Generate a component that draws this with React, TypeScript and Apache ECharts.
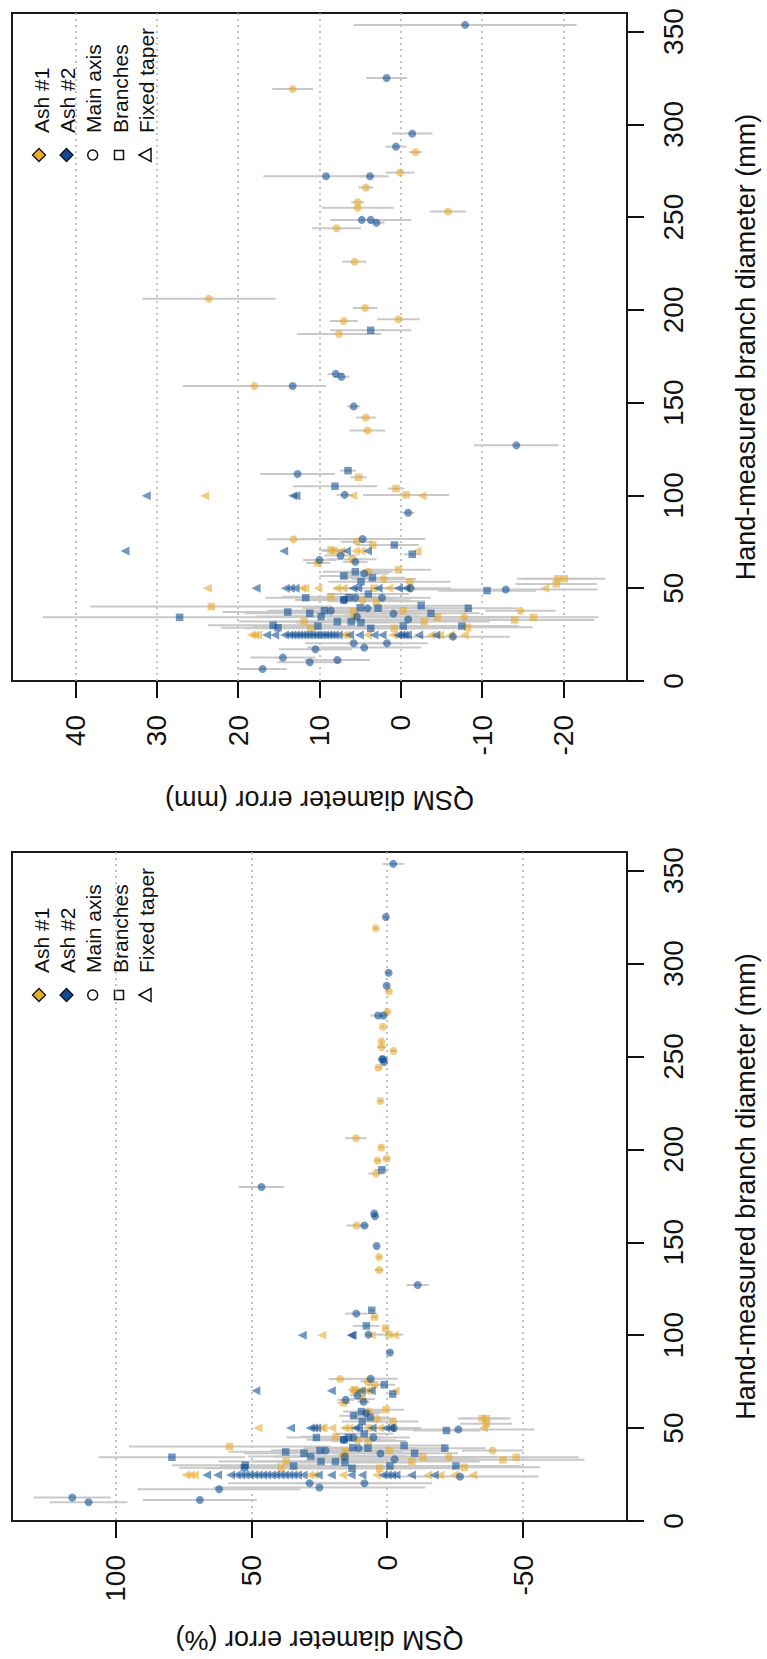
import React, { useEffect, useRef } from "react";
import * as echarts from "echarts";

// [diameter mm, error mm, bar mm, error %, bar %]
const ash1Main: (number | null)[][] = [
  [319, 13.3, 2.5, 4.2, 0.8], [285, -1.8, 0.8, -0.6, 0.3], [274, 0.1, 1.8, 0.0, 0.7],
  [266, 4.3, 0.9, 1.6, 0.3], [258, 5.3, 0.8, 2.1, 0.3], [255, 5.3, 4.4, 2.1, 1.7],
  [253, -5.8, 2.2, -2.3, 0.9], [244, 7.9, 3.0, 3.2, 1.2], [226, 5.7, 1.5, 2.5, 0.7],
  [206, 23.6, 8.2, 11.5, 4.0], [201, 4.4, 1.5, 2.2, 0.7], [195, 0.3, 2.6, 0.2, 1.3],
  [194, 7.0, 1.7, 3.6, 0.9], [187, 7.6, 5.2, 4.1, 2.8], [159, 18.0, 8.8, 11.3, 3.7],
  [142, 4.3, 1.2, 3.0, 0.8], [135, 4.1, 2.2, 3.0, 1.6], [76.4, 13.2, 3.3, 17.3, 4.3],
  [75.1, 5.4, 2.0, 7.2, 2.7], [65.6, 6.0, 3.0, 9.1, 4.6], [58.9, 4.0, 3.0, 6.8, 5.1],
  [55.0, 2.1, 4.0, 3.8, 7.3], [53.5, -1.1, 5.0, -2.1, 9.3], [43.5, 4.7, 6.0, 10.8, 13.8],
  [37.9, -14.7, 4.3, -38.8, 11.3], [34.3, -7.8, 6.0, -22.7, 17.5], [34.7, 5.7, 8.0, 16.4, 23.0],
];

const ash2Main: (number | null)[][] = [
  [353.6, -7.9, 13.7, -2.2, 3.9], [325, 1.75, 2.5, 0.5, 0.8], [295, -1.4, 2.5, -0.5, 0.8],
  [288, 0.6, 1.3, 0.2, 0.5], [272, 9.2, 7.7, 3.4, 2.8], [272, 3.8, 1.5, 1.4, 0.6],
  [248.5, 4.8, 1.0, 1.9, 0.4], [248.5, 3.7, 5.0, 1.5, 2.0], [247, 3.0, 1.0, 1.2, 0.4],
  [165.5, 8.0, 1.0, 4.8, 0.6], [164, 7.3, 1.0, 4.5, 0.6], [159, 13.3, 2.5, 8.4, 1.6],
  [148, 5.8, 0.8, 3.9, 0.5], [127, -14.2, 5.2, -11.2, 4.1], [111.6, 12.7, 4.6, 11.4, 4.1],
  [100.3, 6.9, 1.0, 6.9, 1.0], [90.7, -0.9, 0.8, -1.0, 0.9], [76.5, 4.7, 7.7, 6.1, 10.0],
  [67.6, 7.4, 2.0, 10.9, 3.0], [65.2, 10.0, 2.0, 15.3, 3.0], [64.2, 5.6, 1.5, 8.7, 2.3],
  [58.0, 4.5, 3.0, 7.8, 5.2], [49.3, -12.9, 11.3, -26.2, 28.0], [50.0, -1.2, 5.0, -2.4, 10.0],
  [43.7, 7.0, 6.0, 16.0, 13.7], [44.9, 5.6, 5.0, 12.5, 11.0], [44.9, 2.3, 6.0, 5.1, 13.4],
  [37.9, 8.6, 7.0, 22.7, 18.5], [39.2, 4.1, 8.0, 10.5, 20.4], [36.3, 0.9, 6.0, 2.5, 16.5],
  [34.7, 5.4, 9.0, 15.6, 26.0], [33.2, -0.9, 10.0, -2.7, 30.0], [23.9, -6.4, 7.0, -26.8, 29.0],
  [20.3, 5.8, 6.0, 28.6, 30.0], [18.0, 4.5, 7.0, 25.0, 39.0], [20.3, 1.7, 5.0, 8.4, 25.0],
  [17.1, 10.5, 4.5, 61.9, 30.0], [12.6, 14.5, 4.0, 116.0, 14.2], [10.1, 11.2, 4.0, 110.0, 14.3],
  [11.3, 7.8, 4.0, 69.0, 21.0], [6.5, 17.0, 3.0, null, null], [179.7, null, null, 46.3, 8.4],
];

const ash1Branch: (number | null)[][] = [
  [109.8, 5.2, 1.0, 4.7, 1.0], [103.7, 0.6, 1.0, 0.6, 1.0], [100.3, -0.65, 5.3, -0.6, 5.3],
  [73.3, 3.45, 2.0, 4.7, 2.7], [70.6, 8.6, 1.5, 12.2, 2.1], [70.1, 8.2, 1.5, 11.7, 2.1],
  [63.6, 10.2, 1.5, 16.0, 2.4], [59.9, 0.3, 4.0, 0.5, 6.7], [55.1, -19.3, 5.0, -35.0, 9.0],
  [55.1, -20.1, 5.0, -36.5, 9.0], [52.3, -19.1, 5.0, -36.5, 9.6], [50.0, 3.3, 5.0, 6.6, 10.0],
  [45.4, 8.6, 6.0, 18.9, 13.0], [43.0, 3.0, 6.0, 7.0, 14.0], [40.1, 23.3, 14.9, 58.1, 37.0],
  [37.4, 5.8, 8.0, 15.5, 21.0], [37.9, -0.3, 8.0, -0.8, 21.0], [34.4, -4.5, 8.0, -13.1, 23.0],
  [32.0, 11.9, 8.0, 37.2, 25.0], [28.4, 11.1, 8.0, 39.1, 28.0], [28.4, 0.8, 8.0, 2.8, 28.0],
  [32.0, -2.9, 8.0, -9.1, 25.0], [28.9, -8.2, 8.0, -28.4, 28.0], [32.9, -14.0, 9.8, -42.6, 30.0],
  [34.3, -16.3, 8.0, -47.5, 23.0],
];

const ash2Branch: (number | null)[][] = [
  [189, 3.7, 5.0, 2.0, 2.6], [113.4, 6.5, 1.0, 5.7, 0.9], [105, 8.1, 5.2, 7.7, 5.0],
  [73.3, 0.8, 3.0, 1.1, 4.0], [68.3, -1.4, 1.0, -2.0, 1.5], [56.6, 7.0, 3.0, 12.4, 5.3],
  [58.9, 5.6, 4.0, 9.5, 6.8], [55.7, 3.5, 4.0, 6.3, 7.2], [53.5, 4.9, 4.0, 9.2, 7.5],
  [46.9, 4.0, 5.0, 8.5, 10.7], [48.7, -10.6, 6.0, -21.8, 12.3], [44.9, 11.7, 5.0, 26.1, 11.0],
  [43.7, 7.0, 5.0, 16.0, 11.4], [44.9, 6.4, 5.0, 14.3, 11.0], [34.3, 27.2, 16.8, 79.3, 27.0],
  [37.2, 13.9, 8.0, 37.4, 21.0], [36.5, 11.2, 8.0, 30.7, 22.0], [37.9, 9.4, 7.0, 24.8, 18.0],
  [34.7, 9.8, 8.0, 28.2, 23.0], [39.5, 5.0, 7.0, 12.7, 18.0], [39.2, 2.8, 6.0, 7.1, 15.0],
  [40.6, -2.5, 6.0, -6.2, 15.0], [36.5, -3.7, 6.0, -10.1, 16.0], [39.2, -8.3, 6.0, -21.2, 15.0],
  [32.0, 7.8, 8.0, 24.4, 25.0], [32.0, 6.1, 7.0, 19.1, 22.0], [30.0, 15.7, 8.0, 52.3, 27.0],
  [28.7, 15.1, 7.0, 52.6, 24.0], [29.6, 10.2, 8.0, 34.5, 27.0], [31.5, 4.9, 8.0, 15.6, 25.0],
  [28.4, 3.7, 7.0, 13.0, 25.0], [29.6, -0.3, 8.0, -1.0, 27.0], [29.6, -7.5, 7.0, -25.3, 24.0],
];

// [diameter mm, error mm, error %]
const ash1Taper: number[][] = [
  [99.9, 24.1, 24.1], [99.9, 5.9, 5.9], [99.9, -2.6, -2.6],
  [70.1, 7.4, 10.6], [70.1, 5.6, 8.0], [70.1, 4.9, 7.0], [70.1, -2.0, -2.9],
  [50, 23.8, 47.6], [50, 12.2, 24.4], [50, 11.8, 23.6], [50, 10.2, 20.4], [50, 7.9, 15.8],
  [50, 7.1, 14.2], [50, 1.5, 3.0], [50, -0.9, -1.8], [50, -17.7, -35.4],
  [24.8, 18.4, 74.2], [24.8, 18.0, 72.6], [24.8, 17.6, 71.0], [24.8, 7.1, 28.6], [24.8, 6.7, 27.0],
  [24.8, 4.1, 16.5], [24.8, 1.0, 4.0], [24.8, -3.7, -14.9], [24.8, -4.8, -19.4],
  [24.8, -6.1, -24.6], [24.8, -7.8, -31.5],
];

const ash2Taper: number[][] = [
  [99.9, 31.3, 31.3], [99.9, 13.3, 13.3], [99.9, 12.9, 12.9],
  [70.1, 33.9, 48.4], [70.1, 14.4, 20.6], [70.1, 6.7, 9.6], [70.1, 4.1, 5.9],
  [50, 17.8, 35.6], [50, 14.2, 28.4], [50, 13.6, 27.2], [50, 13.0, 26.0], [50, 5.9, 11.8],
  [50, 5.3, 10.6], [50, 2.8, 5.6], [50, 0.3, 0.6], [50, -0.6, -1.2],
  [24.8, 16.5, 66.5], [24.8, 15.5, 62.5], [24.8, 14.3, 57.7], [24.8, 13.8, 55.6], [24.8, 13.4, 54.0],
  [24.8, 13.0, 52.4], [24.8, 12.6, 50.8], [24.8, 12.2, 49.2], [24.8, 11.8, 47.6], [24.8, 11.4, 46.0],
  [24.8, 11.0, 44.4], [24.8, 10.6, 42.7], [24.8, 10.2, 41.1], [24.8, 9.8, 39.5], [24.8, 9.4, 37.9],
  [24.8, 9.0, 36.3], [24.8, 8.6, 34.7], [24.8, 8.2, 33.1], [24.8, 7.7, 31.0], [24.8, 6.3, 25.4],
  [24.8, 5.1, 20.6], [24.8, 3.3, 13.3], [24.8, 2.3, 9.3], [24.8, 0.4, 1.6], [24.8, 0.0, 0.0],
  [24.8, -0.4, -1.6], [24.8, -0.8, -3.2], [24.8, -2.2, -8.9], [24.8, -4.3, -17.3],
];

const diamTicks = [0, 50, 100, 150, 200, 250, 300, 350];
const mmTicks = [-20, -10, 0, 10, 20, 30, 40];
const pctTicks = [-50, 0, 50, 100];
const legendLabels = ["Ash #1", "Ash #2", "Main axis", "Branches", "Fixed taper"];

const FONT = '"Liberation Sans", Arial, Helvetica, sans-serif';
const YELLOW = "rgba(230,168,40,0.72)";
const BLUE = "rgba(13,76,146,0.72)";
const BAR = "#c9c9c9";

export default function App() {
  const ref = useRef<HTMLDivElement>(null);
  useEffect(() => {
    document.body.style.margin = "0";
    const chart = echarts.init(ref.current!, null, { renderer: "svg" });

    const panels = [
      { top: 13, height: 668, min: -27.8, max: 47.8, ticks: mmTicks, name: "QSM diameter error (mm)", vi: 1, bi: 2 },
      { top: 852, height: 669, min: -88.3, max: 138.2, ticks: pctTicks, name: "QSM diameter error (%)", vi: 3, bi: 4 },
    ];

    const grid = panels.map((p) => ({
      left: 12, top: p.top, width: 619, height: p.height, show: true,
      borderColor: "#1a1a1a", borderWidth: 2, backgroundColor: "transparent",
    }));
    const xAxis = panels.map((p, i) => ({
      gridIndex: i, type: "value", inverse: true, min: p.min, max: p.max, position: "bottom",
      axisLine: { show: false, onZero: false },
      axisTick: { show: true, length: 17, lineStyle: { color: "#111", width: 2 }, customValues: p.ticks },
      axisLabel: { rotate: 90, fontSize: 28, color: "#111", fontFamily: FONT, margin: 34, customValues: p.ticks },
      splitLine: { show: true, lineStyle: { color: "#b0b0b0", type: [2, 4], width: 1.5 } },
      name: p.name, nameLocation: "middle", nameRotate: 180, nameGap: 105,
      nameTextStyle: { fontSize: 27, color: "#111", fontFamily: FONT },
    }));
    const yAxis = panels.map((p, i) => ({
      gridIndex: i, type: "value", min: 0, max: 360, position: "right",
      axisLine: { show: false, onZero: false },
      axisTick: { show: true, length: 17, lineStyle: { color: "#111", width: 2 }, customValues: diamTicks },
      axisLabel: { rotate: 90, fontSize: 28, color: "#111", fontFamily: FONT, margin: 32, customValues: diamTicks },
      splitLine: { show: false },
      name: "Hand-measured branch diameter (mm)", nameLocation: "middle", nameRotate: 90, nameGap: 105,
      nameTextStyle: { fontSize: 27, color: "#111", fontFamily: FONT },
    }));

    const withBars = [ash1Main, ash2Main, ash1Branch, ash2Branch];
    const series: any[] = [];
    panels.forEach((p, i) => {
      const bars: number[][] = [];
      withBars.forEach((arr) =>
        arr.forEach((r) => {
          const v = r[p.vi];
          const b = r[p.bi];
          if (v != null && b != null) bars.push([v - b, v + b, r[0] as number]);
        })
      );
      series.push({
        type: "custom", xAxisIndex: i, yAxisIndex: i, clip: true, silent: true,
        data: bars, encode: { x: [0, 1], y: 2 },
        renderItem: (_params: any, api: any) => {
          const a = api.coord([api.value(0), api.value(2)]);
          const b = api.coord([api.value(1), api.value(2)]);
          return { type: "line", shape: { x1: a[0], y1: a[1], x2: b[0], y2: b[1] }, style: { stroke: BAR, lineWidth: 2 } };
        },
      });
      const ti = i === 0 ? 1 : 2;
      const groups = [
        { arr: ash1Main, idx: p.vi, color: YELLOW, symbol: "circle", size: 8, rot: 0 },
        { arr: ash1Branch, idx: p.vi, color: YELLOW, symbol: "rect", size: 7.5, rot: 0 },
        { arr: ash1Taper, idx: ti, color: YELLOW, symbol: "triangle", size: 9, rot: 90 },
        { arr: ash2Main, idx: p.vi, color: BLUE, symbol: "circle", size: 8, rot: 0 },
        { arr: ash2Branch, idx: p.vi, color: BLUE, symbol: "rect", size: 7.5, rot: 0 },
        { arr: ash2Taper, idx: ti, color: BLUE, symbol: "triangle", size: 9, rot: 90 },
      ];
      groups.forEach((g) => {
        series.push({
          type: "scatter", xAxisIndex: i, yAxisIndex: i, clip: true, silent: true,
          symbol: g.symbol, symbolSize: g.size, symbolRotate: g.rot,
          itemStyle: { color: g.color },
          data: (g.arr as any[]).filter((r) => r[g.idx] != null).map((r) => [r[g.idx], r[0]]),
        });
      });
    });

    const graphic: any[] = [];
    [0, 840].forEach((oy) => {
      const sy = 155 + oy;
      graphic.push(
        { type: "polygon", shape: { points: [[39, sy - 6.5], [45.5, sy], [39, sy + 6.5], [32.5, sy]] }, style: { fill: "#e8ae2a", stroke: "#111", lineWidth: 1.3 } },
        { type: "polygon", shape: { points: [[66.5, sy - 6.5], [73, sy], [66.5, sy + 6.5], [60, sy]] }, style: { fill: "#0d4c92", stroke: "#111", lineWidth: 1.3 } },
        { type: "circle", shape: { cx: 92.7, cy: sy, r: 5 }, style: { fill: "none", stroke: "#111", lineWidth: 1.5 } },
        { type: "rect", shape: { x: 114.5, y: sy - 4.5, width: 9, height: 9 }, style: { fill: "none", stroke: "#111", lineWidth: 1.5 } },
        { type: "polygon", shape: { points: [[139, sy], [151, sy - 6.5], [151, sy + 6.5]] }, style: { fill: "none", stroke: "#111", lineWidth: 1.5 } }
      );
      const xs = [41, 67.5, 93.5, 120, 146];
      legendLabels.forEach((t, k) => {
        graphic.push({
          type: "text", x: xs[k], y: 133 + oy, rotation: Math.PI / 2,
          style: {
            text: t, font: '21px "Liberation Sans", Arial, sans-serif', fontSize: 21,
            fontFamily: FONT, fill: "#111", align: "left", verticalAlign: "middle",
          },
        });
      });
    });

    chart.setOption({
      animation: false,
      backgroundColor: "#ffffff",
      grid, xAxis, yAxis, series, graphic,
    });
    return () => chart.dispose();
  }, []);
  return <div ref={ref} style={{ width: 767, height: 1659 }} />;
}
